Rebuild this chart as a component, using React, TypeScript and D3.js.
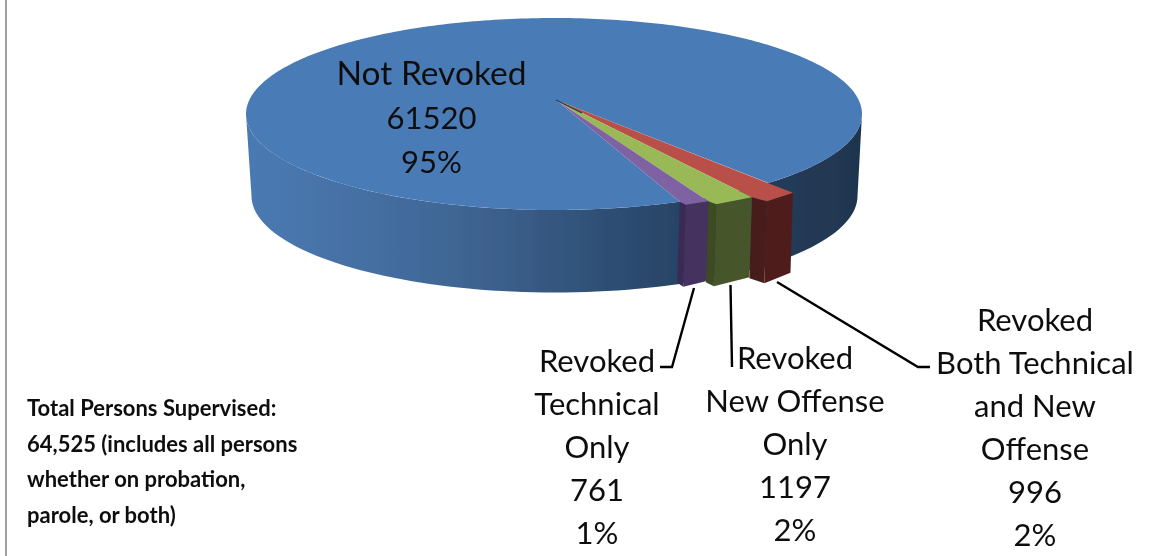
import React from "react";
import * as d3 from "d3";

const categories = ["Revoked Both Technical and New Offense", "Revoked New Offense Only", "Revoked Technical Only", "Not Revoked"];
const values = [996, 1197, 761, 61520];
const percents = ["2%", "2%", "1%", "95%"];
const noteLines = ["Total Persons Supervised:", "64,525 (includes all persons", "whether on probation,", "parole, or both)"];

const W = 1151, H = 556;
const apex: [number, number] = [556, 100];
const top = { cx: 554, cy: 114, rx: 308, ry: 96 };
const bottom = { cx: 554.5, cy: 196, rx: 303, ry: 96.5 };
const rad = Math.PI / 180;
// screen ellipse parameter and explode factor at each wedge boundary
const boundaryParams = [46, 53.1, 61, 65.9];
const boundaryExplode = [1.118, 1.071, 1.034, 1.0];
const bevelOffset = [[15, 4], [8, 3], [6, 3]];
const depth = 81, depthSkew = -2.5;

const topColors = ["#b9504a", "#98b954", "#7e62a1"];
const sideColors = ["#4f1f1c", "#46562a", "#44315e"];
const bevelColors = ["#4a1f1c", "#3c4c24", "#3b2a52"];

const labelBlocks = [
  { i: 3, x: 431.5, y: 85, dy: 44, size: 33.5, lines: ["Not Revoked"] },
  { i: 2, x: 597, y: 372, dy: 43, size: 31, lines: ["Revoked", "Technical", "Only"] },
  { i: 1, x: 795, y: 369, dy: 43, size: 31, lines: ["Revoked", "New Offense", "Only"] },
  { i: 0, x: 1035, y: 331, dy: 43, size: 31, lines: ["Revoked", "Both Technical", "and New", "Offense"] },
];

const pie = d3.pie<number>().sort(null).startAngle(0).endAngle(2 * Math.PI);
const arcs = pie(values);
const domain = [arcs[0].startAngle, arcs[0].endAngle, arcs[1].endAngle, arcs[2].endAngle];
const toParam = d3.scaleLinear().domain(domain).range(boundaryParams);
const toExplode = d3.scaleLinear().domain(domain).range(boundaryExplode);

const onEllipse = (e: typeof top, deg: number): [number, number] => [
  e.cx + e.rx * Math.cos(deg * rad),
  e.cy + e.ry * Math.sin(deg * rad),
];
const rim = (angle: number): [number, number] => {
  const p = onEllipse(top, toParam(angle));
  const k = toExplode(angle);
  return [apex[0] + (p[0] - apex[0]) * k, apex[1] + (p[1] - apex[1]) * k];
};
const down = (p: [number, number], extra = 0): [number, number] => [p[0] + depthSkew, p[1] + depth + extra];
const poly = (pts: [number, number][]) => d3.line()(pts) + "Z";

const blueStart = toParam(arcs[2].endAngle);
const blueEnd = toParam(arcs[0].startAngle) + 360;
const blueTop = poly([apex, ...d3.range(blueStart, blueEnd + 0.5, 1).map((t) => onEllipse(top, t))]);
const sideShape = poly([
  ...d3.range(0, 181, 2).map((t) => onEllipse(top, t)),
  ...d3.range(180, -1, -2).map((t) => onEllipse(bottom, t)),
]);

const wedges = arcs.slice(0, 3).map((a, i) => {
  const R = rim(a.startAngle);
  const L = rim(a.endAngle);
  const V: [number, number] = [L[0] + bevelOffset[i][0], L[1] + bevelOffset[i][1]];
  return {
    top: poly([apex, R, V, L]),
    side: poly([V, R, down(R, -1), down(V, 1)]),
    bevel: poly([L, V, down(V, 1), down(L)]),
    i,
  };
});

const leaders: [number, number][][] = [
  [[777, 282], [918, 367], [930, 367]],
  [[730.5, 285], [732, 367]],
  [[694, 288], [672, 367], [660, 367]],
];

export default function App() {
  const font = "Lato, Carlito, sans-serif";
  return (
    <svg width={W} height={H} style={{ position: "fixed", left: 0, top: 0, display: "block", background: "#fff" }}>
      <defs>
        <linearGradient id="side" gradientUnits="userSpaceOnUse" x1={246} x2={862} y1={0} y2={0}>
          <stop offset="0" stopColor="#4a7ab3" />
          <stop offset="0.16" stopColor="#4671a6" />
          <stop offset="0.35" stopColor="#3f6593" />
          <stop offset="0.58" stopColor="#2f4f75" />
          <stop offset="0.75" stopColor="#254060" />
          <stop offset="1" stopColor="#1f354f" />
        </linearGradient>
        <filter id="soft" x="-2%" y="-2%" width="104%" height="104%">
          <feGaussianBlur stdDeviation="0.45" />
        </filter>
      </defs>
      <g filter="url(#soft)">
        <rect x={5} y={0} width={2} height={H} fill="#a0a0a0" />
        <path d={sideShape} fill="url(#side)" />
        <path d={blueTop} fill="#4a7bb6" />
        {wedges.map((w) => (
          <g key={w.i}>
            <path d={w.side} fill={sideColors[w.i]} />
            <path d={w.bevel} fill={bevelColors[w.i]} />
            <path d={w.top} fill={topColors[w.i]} />
          </g>
        ))}
        <line x1={apex[0]} y1={apex[1]} x2={apex[0] + 26} y2={apex[1] + 13} stroke="#24344c" strokeWidth={1.2} />
        {leaders.map((pts, i) => (
          <path key={i} d={d3.line()(pts) as string} fill="none" stroke="#000" strokeWidth={2.4} />
        ))}
        <g fontFamily={font} fill="#111" textAnchor="middle">
          {labelBlocks.map((b) => {
            const all = [...b.lines, d3.format("d")(values[b.i]), percents[b.i]];
            return all.map((line, k) => (
              <text key={b.i + "-" + k} x={b.x} y={b.y + k * b.dy} fontSize={k < b.lines.length ? b.size : 31}>{line}</text>
            ));
          })}
        </g>
        <g fontFamily={font} fontSize={22} fontWeight={700} fill="#111">
          {noteLines.map((l, i) => (
            <text key={i} x={27} y={416 + i * 35.7}>{l}</text>
          ))}
        </g>
      </g>
    </svg>
  );
}
